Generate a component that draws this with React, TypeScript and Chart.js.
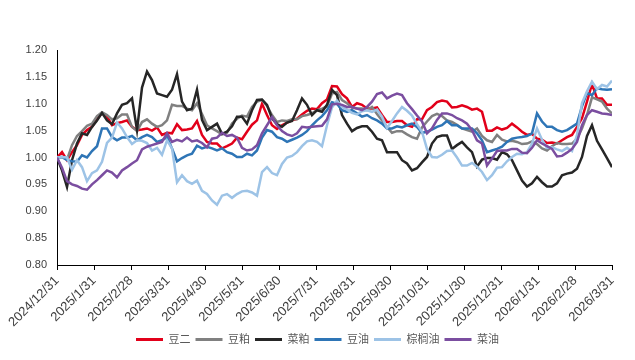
import React, { useEffect, useRef } from "react";
import { Chart, registerables } from "chart.js";

Chart.register(...registerables);

const MONTH_LABELS = [
  "2024/12/31", "2025/1/31", "2025/2/28", "2025/3/31", "2025/4/30",
  "2025/5/31", "2025/6/30", "2025/7/31", "2025/8/31", "2025/9/30",
  "2025/10/31", "2025/11/30", "2025/12/31", "2026/1/31", "2026/2/28", "2026/3/31",
];

const Y_TICKS = [0.8, 0.85, 0.9, 0.95, 1.0, 1.05, 1.1, 1.15, 1.2];

const SERIES_NAMES = ["豆二", "豆粕", "菜粕", "豆油", "棕榈油", "菜油"];
const SERIES_COLORS = ["#E2001A", "#808080", "#262626", "#2E75B6", "#9DC3E6", "#7B4EA0"];

const DOU_ER = [
  1.000, 1.010, 0.995, 1.010, 1.023, 1.042, 1.051, 1.057, 1.071, 1.083, 1.076, 1.060, 1.064, 1.066, 1.069, 1.057, 1.051, 1.052, 1.054, 1.050, 1.056, 1.042, 1.046,
  1.045, 1.062, 1.051, 1.052, 1.054, 1.068, 1.042, 1.029, 1.026, 1.026, 1.017, 1.021, 1.026, 1.037, 1.034, 1.048, 1.061, 1.069, 1.100, 1.079, 1.060, 1.053,
  1.060, 1.065, 1.069, 1.072, 1.080, 1.087, 1.091, 1.090, 1.101, 1.108, 1.133, 1.132, 1.118, 1.110, 1.094, 1.101, 1.098, 1.091, 1.091, 1.093, 1.079, 1.066,
  1.066, 1.068, 1.068, 1.060, 1.057, 1.071, 1.071, 1.088, 1.094, 1.103, 1.106, 1.104, 1.093, 1.094, 1.097, 1.094, 1.089, 1.091, 1.085, 1.050, 1.050, 1.056,
  1.052, 1.055, 1.063, 1.056, 1.048, 1.042, 1.044, 1.035, 1.033, 1.027, 1.028, 1.026, 1.032, 1.038, 1.042, 1.057, 1.073, 1.104, 1.137, 1.110, 1.110, 1.098, 1.098,
];

const DOU_PO = [
  1.000, 1.001, 0.996, 1.023, 1.040, 1.049, 1.059, 1.063, 1.077, 1.084, 1.079, 1.071, 1.073, 1.080, 1.080, 1.057, 1.049, 1.066, 1.071, 1.063, 1.057, 1.060, 1.069,
  1.098, 1.096, 1.096, 1.091, 1.088, 1.101, 1.081, 1.060, 1.054, 1.049, 1.043, 1.046, 1.063, 1.072, 1.078, 1.076, 1.094, 1.104, 1.107, 1.096, 1.079, 1.066,
  1.069, 1.068, 1.071, 1.071, 1.077, 1.079, 1.082, 1.088, 1.091, 1.095, 1.119, 1.122, 1.107, 1.101, 1.093, 1.091, 1.091, 1.088, 1.094, 1.081, 1.069, 1.057,
  1.046, 1.049, 1.049, 1.043, 1.038, 1.035, 1.056, 1.067, 1.077, 1.081, 1.077, 1.069, 1.066, 1.061, 1.054, 1.051, 1.048, 1.054, 1.040, 1.032, 1.029, 1.042,
  1.033, 1.030, 1.031, 1.029, 1.025, 1.026, 1.030, 1.025, 1.017, 1.013, 1.021, 1.027, 1.025, 1.025, 1.026, 1.035, 1.054, 1.079, 1.112, 1.108, 1.104, 1.091, 1.082,
];

const CAI_PO = [
  1.000, 0.976, 0.945, 0.995, 1.026, 1.045, 1.042, 1.057, 1.069, 1.083, 1.069, 1.062, 1.082, 1.098, 1.101, 1.110, 1.051, 1.130, 1.160, 1.144, 1.119, 1.116, 1.113,
  1.126, 1.155, 1.104, 1.088, 1.091, 1.126, 1.070, 1.051, 1.057, 1.063, 1.044, 1.048, 1.058, 1.076, 1.076, 1.063, 1.088, 1.107, 1.108, 1.098, 1.073, 1.062,
  1.057, 1.065, 1.068, 1.088, 1.110, 1.098, 1.079, 1.088, 1.085, 1.098, 1.126, 1.116, 1.079, 1.063, 1.049, 1.055, 1.058, 1.058, 1.048, 1.035, 1.032, 1.010,
  1.010, 1.010, 0.995, 0.989, 0.976, 0.980, 0.991, 1.001, 1.026, 1.038, 1.041, 1.041, 1.016, 1.023, 1.029, 1.019, 1.010, 0.983, 0.996, 0.999, 0.999, 0.996,
  1.010, 1.006, 0.995, 0.976, 0.957, 0.946, 0.952, 0.964, 0.954, 0.946, 0.946, 0.952, 0.967, 0.970, 0.972, 0.979, 1.001, 1.040, 1.060, 1.031, 1.015, 0.999, 0.982,
];

const DOU_YOU = [
  1.000, 1.001, 0.995, 0.993, 0.992, 1.004, 1.000, 1.012, 1.021, 1.054, 1.054, 1.038, 1.032, 1.037, 1.037, 1.040, 1.032, 1.038, 1.042, 1.038, 1.029, 1.032, 1.038,
  1.017, 0.993, 0.999, 1.004, 1.007, 1.022, 1.017, 1.020, 1.017, 1.013, 1.017, 1.010, 1.007, 1.001, 1.001, 1.007, 1.004, 1.013, 1.037, 1.051, 1.048, 1.038,
  1.035, 1.029, 1.033, 1.037, 1.042, 1.049, 1.060, 1.069, 1.077, 1.088, 1.103, 1.100, 1.088, 1.085, 1.088, 1.082, 1.076, 1.079, 1.073, 1.069, 1.063, 1.054,
  1.054, 1.058, 1.056, 1.060, 1.063, 1.057, 1.046, 1.048, 1.052, 1.057, 1.060, 1.068, 1.060, 1.060, 1.054, 1.054, 1.054, 1.045, 1.032, 1.010, 1.013, 1.016,
  1.020, 1.029, 1.035, 1.037, 1.038, 1.040, 1.045, 1.082, 1.067, 1.057, 1.057, 1.051, 1.048, 1.051, 1.057, 1.063, 1.095, 1.120, 1.116, 1.129, 1.127, 1.126, 1.127,
];

const ZONG_LV_YOU = [
  1.000, 1.001, 1.000, 0.977, 0.995, 0.982, 0.956, 0.971, 0.976, 0.992, 1.027, 1.037, 1.065, 1.054, 1.038, 1.025, 1.032, 1.031, 1.027, 1.013, 1.018, 1.005, 1.032,
  1.017, 0.954, 0.967, 0.956, 0.951, 0.957, 0.938, 0.932, 0.920, 0.912, 0.929, 0.932, 0.925, 0.932, 0.937, 0.938, 0.935, 0.929, 0.973, 0.982, 0.971, 0.967,
  0.988, 1.000, 1.003, 1.010, 1.021, 1.030, 1.032, 1.029, 1.021, 1.060, 1.093, 1.106, 1.094, 1.089, 1.083, 1.080, 1.086, 1.088, 1.085, 1.089, 1.076, 1.055,
  1.068, 1.082, 1.094, 1.087, 1.078, 1.062, 1.048, 1.016, 1.001, 1.000, 1.005, 1.012, 1.013, 1.000, 0.985, 0.985, 0.990, 0.983, 0.973, 0.958, 0.967, 0.981,
  0.982, 0.993, 1.001, 1.007, 1.006, 1.010, 1.026, 1.054, 1.033, 1.018, 1.019, 1.015, 1.012, 1.018, 1.012, 1.042, 1.101, 1.123, 1.141, 1.127, 1.135, 1.132, 1.143,
];

const CAI_YOU = [
  1.000, 0.981, 0.956, 0.950, 0.947, 0.942, 0.940, 0.950, 0.958, 0.967, 0.976, 0.972, 0.963, 0.976, 0.982, 0.989, 0.995, 1.015, 1.020, 1.023, 1.026, 1.029, 1.045,
  1.029, 1.033, 1.030, 1.037, 1.030, 1.032, 1.027, 1.019, 1.035, 1.037, 1.046, 1.040, 1.042, 1.037, 1.018, 1.013, 1.015, 1.023, 1.045, 1.060, 1.075, 1.060,
  1.049, 1.043, 1.040, 1.045, 1.057, 1.056, 1.057, 1.058, 1.059, 1.071, 1.099, 1.100, 1.098, 1.094, 1.094, 1.091, 1.088, 1.094, 1.104, 1.118, 1.121, 1.110,
  1.115, 1.119, 1.116, 1.101, 1.090, 1.078, 1.067, 1.045, 1.054, 1.070, 1.082, 1.082, 1.079, 1.073, 1.069, 1.063, 1.051, 1.032, 1.026, 0.985, 0.998, 1.012,
  1.013, 1.013, 1.016, 1.016, 1.009, 1.008, 1.018, 1.032, 1.026, 1.021, 1.016, 1.002, 1.003, 1.009, 1.016, 1.029, 1.060, 1.079, 1.088, 1.085, 1.082, 1.081, 1.079,
];

const SERIES_VALUES = [DOU_ER, DOU_PO, CAI_PO, DOU_YOU, ZONG_LV_YOU, CAI_YOU];

export default function App() {
  const ref = useRef<HTMLCanvasElement>(null);

  useEffect(() => {
    if (!ref.current) return;
    Chart.defaults.font.family = "'Liberation Sans', 'Noto Sans CJK SC', sans-serif";
    const lastMonth = MONTH_LABELS.length - 1;
    const datasets = SERIES_VALUES.map((vals, si) => ({
      label: SERIES_NAMES[si],
      data: vals.map((v, i) => ({ x: (i * lastMonth) / (vals.length - 1), y: v })),
      borderColor: SERIES_COLORS[si],
      backgroundColor: SERIES_COLORS[si],
      borderWidth: 2.5,
      pointRadius: 0,
      tension: 0,
      order: SERIES_VALUES.length - si,
    }));

    const chart = new Chart(ref.current, {
      type: "line",
      data: { datasets },
      options: {
        animation: false,
        responsive: false,
        layout: { padding: { top: 42, right: 15, bottom: 1, left: 15 } },
        scales: {
          x: {
            type: "linear",
            min: 0,
            max: lastMonth,
            afterBuildTicks: (s: any) => {
              s.ticks = MONTH_LABELS.map((_, i) => ({ value: i }));
            },
            afterFit: (s: any) => {
              s.height = 64;
            },
            ticks: {
              autoSkip: false,
              minRotation: 45,
              maxRotation: 45,
              padding: 3,
              color: "#404040",
              font: { size: 13 },
              callback: (v: any) => MONTH_LABELS[Math.round(v)] ?? "",
            },
            grid: {
              display: true,
              drawOnChartArea: false,
              drawTicks: true,
              tickLength: 5,
              color: "#000",
              lineWidth: 1,
            },
            border: { display: true, color: "#000", width: 1 },
          },
          y: {
            min: 0.8,
            max: 1.2,
            afterBuildTicks: (s: any) => {
              s.ticks = Y_TICKS.map((v) => ({ value: v }));
            },
            afterFit: (s: any) => {
              s.width = 34;
            },
            ticks: {
              padding: 10,
              color: "#404040",
              font: { size: 11 },
              callback: (v: any) => Number(v).toFixed(2),
            },
            grid: { display: false, drawTicks: false },
            border: { display: true, color: "#000", width: 1 },
          },
        },
        plugins: {
          tooltip: { enabled: false },
          legend: {
            position: "bottom",
            labels: {
              boxWidth: 27,
              boxHeight: 3,
              padding: 5,
              color: "#595959",
              font: { size: 11 },
              sort: (a: any, b: any) => a.datasetIndex - b.datasetIndex,
              generateLabels: (c: any) =>
                (Chart.defaults.plugins.legend.labels.generateLabels as any)(c).map((it: any) => ({
                  ...it,
                  lineWidth: 0,
                })),
            },
          },
        },
      },
    } as any);

    return () => chart.destroy();
  }, []);

  return <canvas ref={ref} width={619} height={348} style={{ display: "block" }} />;
}
